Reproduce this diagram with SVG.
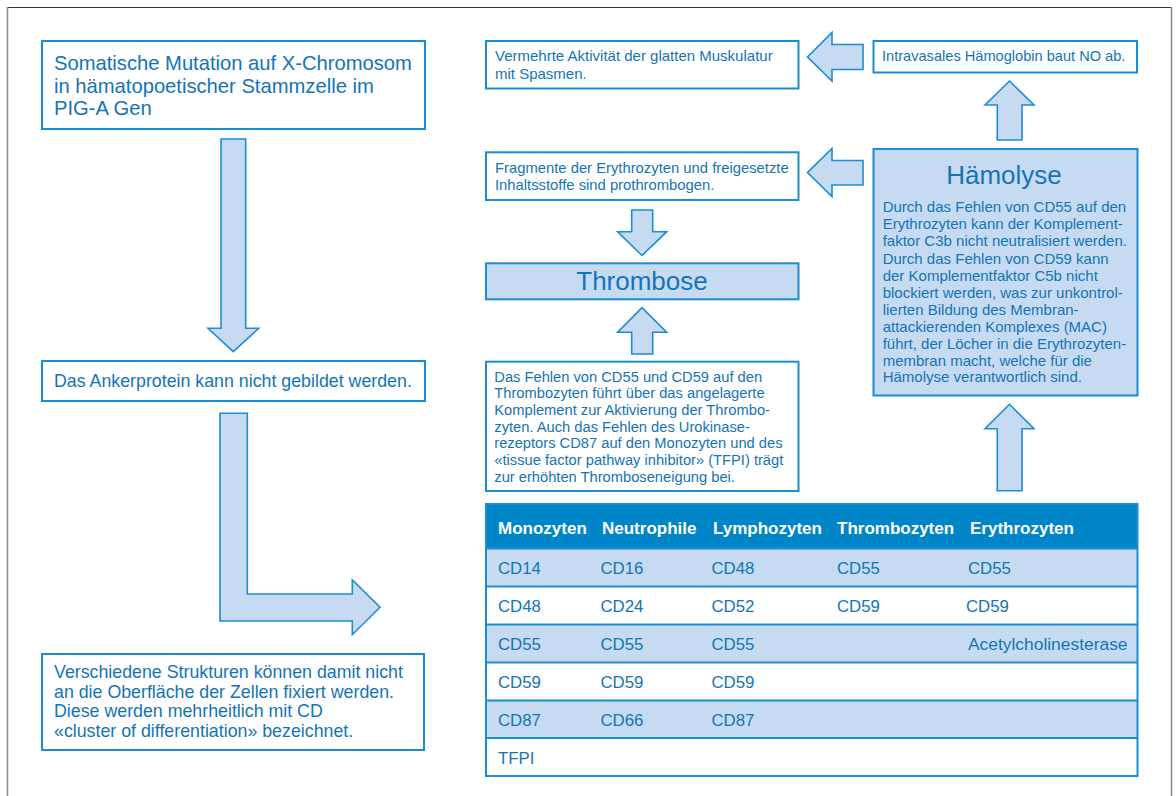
<svg xmlns="http://www.w3.org/2000/svg" width="1176" height="796" viewBox="0 0 1176 796">
<style>
.box{fill:#ffffff;stroke:#1b8dd3;stroke-width:2}
.fbox{fill:#c6dbf1;stroke:#1b8dd3;stroke-width:2}
.arr{fill:#c6dbf1;stroke:#1b8dd3;stroke-width:1.6;stroke-linejoin:miter}
text{font-family:"Liberation Sans",Arial,sans-serif;fill:#1474b6}
.big{font-size:20.2px}
.mid{font-size:17.8px}
.sm{font-size:15px}
.title{font-size:26px}
.th{font-size:17px;font-weight:bold;fill:#ffffff}
.td{font-size:16.8px}
.frame{stroke:#8c8c8c;stroke-width:1.6;fill:none}
</style>
<rect width="1176" height="796" fill="#ffffff"/>
<g id="frame">
<line x1="7.5" y1="7.5" x2="1171.5" y2="7.5" stroke="#333333" stroke-width="1.2"/>
<line class="frame" x1="7.5" y1="7" x2="7.5" y2="796"/>
<line class="frame" x1="1171.5" y1="7" x2="1171.5" y2="796"/>
</g>
<g id="connectors">
<polygon class="arr" points="221,139 245.7,139 245.7,328.3 258.7,328.3 233.3,351.7 208,328.3 221,328.3"/>
<polygon class="arr" points="220,413.3 247.3,413.3 247.3,594 352.3,594 352.3,580 380,607.3 352.3,634.7 352.3,621 220,621"/>
<polygon class="arr" points="863,44.5 832,44.5 832,32.5 807.5,57 832,81 832,69.5 863,69.5"/>
<polygon class="arr" points="863,160.5 832,160.5 832,148.5 807.5,172.5 832,196.5 832,185 863,185"/>
<polygon class="arr" points="997.3,140 997.3,105 985,105 1009.5,81 1034,105 1022,105 1022,140"/>
<polygon class="arr" points="997.3,490.7 997.3,428.7 985,428.7 1009.5,404.3 1034,428.7 1022,428.7 1022,490.7"/>
<polygon class="arr" points="631.7,210 652.7,210 652.7,231.7 666.7,231.7 642,255.5 617.7,231.7 631.7,231.7"/>
<polygon class="arr" points="631.7,354 652.7,354 652.7,332.3 666.7,332.3 642,307.7 617.7,332.3 631.7,332.3"/>
</g>
<g id="mutation">
<rect class="box" x="42" y="41" width="383" height="88"/>
<text class="big" x="54" y="70">Somatische Mutation auf X-Chromosom</text>
<text class="big" x="54" y="92.5">in hämatopoetischer Stammzelle im</text>
<text class="big" x="54" y="115">PIG-A Gen</text>
</g>
<g id="ankerprotein">
<rect class="box" x="42" y="361" width="383" height="40"/>
<text class="mid" x="54" y="386.5">Das Ankerprotein kann nicht gebildet werden.</text>
</g>
<g id="strukturen">
<rect class="box" x="42" y="654" width="382" height="96"/>
<text class="mid" x="54" y="678">Verschiedene Strukturen können damit nicht</text>
<text class="mid" x="54" y="697.5">an die Oberfläche der Zellen fixiert werden.</text>
<text class="mid" x="54" y="717">Diese werden mehrheitlich mit CD</text>
<text class="mid" x="54" y="736.7">«cluster of differentiation» bezeichnet.</text>
</g>
<g id="muskulatur">
<rect class="box" x="486" y="41" width="312.5" height="47.5"/>
<text class="sm" x="495" y="61">Vermehrte Aktivität der glatten Muskulatur</text>
<text class="sm" x="495" y="78.5">mit Spasmen.</text>
</g>
<g id="haemoglobin">
<rect class="box" x="873.5" y="41" width="263.5" height="31.5"/>
<text class="sm" x="882" y="61" style="font-size:14.6px">Intravasales Hämoglobin baut NO ab.</text>
</g>
<g id="fragmente">
<rect class="box" x="486" y="152.3" width="312.5" height="47.7"/>
<text class="sm" x="495" y="172.7" style="font-size:14.8px">Fragmente der Erythrozyten und freigesetzte</text>
<text class="sm" x="495" y="190.2" style="font-size:14.8px">Inhaltsstoffe sind prothrombogen.</text>
</g>
<g id="haemolyse">
<rect class="fbox" x="873.5" y="149" width="264" height="246.5"/>
<text class="title" x="1004" y="184.3" text-anchor="middle">Hämolyse</text>
<text class="sm" x="882.7" y="212.3">Durch das Fehlen von CD55 auf den</text>
<text class="sm" x="882.7" y="229.4">Erythrozyten kann der Komplement-</text>
<text class="sm" x="882.7" y="246.4">faktor C3b nicht neutralisiert werden.</text>
<text class="sm" x="882.7" y="263.5">Durch das Fehlen von CD59 kann</text>
<text class="sm" x="882.7" y="280.5">der Komplementfaktor C5b nicht</text>
<text class="sm" x="882.7" y="297.6">blockiert werden, was zur unkontrol-</text>
<text class="sm" x="882.7" y="314.7">lierten Bildung des Membran-</text>
<text class="sm" x="882.7" y="331.7">attackierenden Komplexes (MAC)</text>
<text class="sm" x="882.7" y="348.8">führt, der Löcher in die Erythrozyten-</text>
<text class="sm" x="882.7" y="365.8">membran macht, welche für die</text>
<text class="sm" x="882.7" y="382.2">Hämolyse verantwortlich sind.</text>
</g>
<g id="thrombose">
<rect class="fbox" x="486" y="263.3" width="312.5" height="36"/>
<text class="title" x="642" y="290" text-anchor="middle">Thrombose</text>
</g>
<g id="thrombozyten">
<rect class="box" x="486" y="361.7" width="312.5" height="129.3"/>
<text class="sm" x="494.3" y="381.7" style="font-size:14.7px">Das Fehlen von CD55 und CD59 auf den</text>
<text class="sm" x="494.3" y="398.3" style="font-size:14.7px">Thrombozyten führt über das angelagerte</text>
<text class="sm" x="494.3" y="415" style="font-size:14.7px">Komplement zur Aktivierung der Thrombo-</text>
<text class="sm" x="494.3" y="431.7" style="font-size:14.7px">zyten. Auch das Fehlen des Urokinase-</text>
<text class="sm" x="494.3" y="448.3" style="font-size:14.7px">rezeptors CD87 auf den Monozyten und des</text>
<text class="sm" x="494.3" y="465" style="font-size:14.7px">«tissue factor pathway inhibitor» (TFPI) trägt</text>
<text class="sm" x="494.3" y="481.5" style="font-size:14.7px">zur erhöhten Thromboseneigung bei.</text>
</g>
<g id="table">
<rect x="486" y="504" width="651.5" height="44.5" fill="#0085c8"/>
<rect x="486" y="548.5" width="651.5" height="38" fill="#c6dbf1"/>
<rect x="486" y="586.5" width="651.5" height="38" fill="#ffffff"/>
<rect x="486" y="624.5" width="651.5" height="38" fill="#c6dbf1"/>
<rect x="486" y="662.5" width="651.5" height="38" fill="#ffffff"/>
<rect x="486" y="700.5" width="651.5" height="37.5" fill="#c6dbf1"/>
<rect x="486" y="738" width="651.5" height="38" fill="#ffffff"/>
<g stroke="#1b8dd3" stroke-width="2" fill="none">
<rect x="486" y="504" width="651.5" height="272"/>
<line x1="486" y1="548.5" x2="1137.5" y2="548.5"/>
<line x1="486" y1="586.5" x2="1137.5" y2="586.5"/>
<line x1="486" y1="624.5" x2="1137.5" y2="624.5"/>
<line x1="486" y1="662.5" x2="1137.5" y2="662.5"/>
<line x1="486" y1="700.5" x2="1137.5" y2="700.5"/>
<line x1="486" y1="738" x2="1137.5" y2="738"/>
</g>
<text class="th" x="498" y="533.5">Monozyten</text>
<text class="th" x="602" y="533.5">Neutrophile</text>
<text class="th" x="713" y="533.5">Lymphozyten</text>
<text class="th" x="837" y="533.5">Thrombozyten</text>
<text class="th" x="970" y="533.5">Erythrozyten</text>
<text class="td" x="498" y="574">CD14</text>
<text class="td" x="600.5" y="574">CD16</text>
<text class="td" x="711.5" y="574">CD48</text>
<text class="td" x="837" y="574">CD55</text>
<text class="td" x="968" y="574">CD55</text>
<text class="td" x="498" y="612">CD48</text>
<text class="td" x="600.5" y="612">CD24</text>
<text class="td" x="711.5" y="612">CD52</text>
<text class="td" x="837" y="612">CD59</text>
<text class="td" x="966" y="612">CD59</text>
<text class="td" x="498" y="650">CD55</text>
<text class="td" x="600.5" y="650">CD55</text>
<text class="td" x="711.5" y="650">CD55</text>
<text class="td" x="968" y="650" style="font-size:17.4px">Acetylcholinesterase</text>
<text class="td" x="498" y="688">CD59</text>
<text class="td" x="600.5" y="688">CD59</text>
<text class="td" x="711.5" y="688">CD59</text>
<text class="td" x="498" y="726">CD87</text>
<text class="td" x="600.5" y="726">CD66</text>
<text class="td" x="711.5" y="726">CD87</text>
<text class="td" x="498" y="764">TFPI</text>
</g>
</svg>
